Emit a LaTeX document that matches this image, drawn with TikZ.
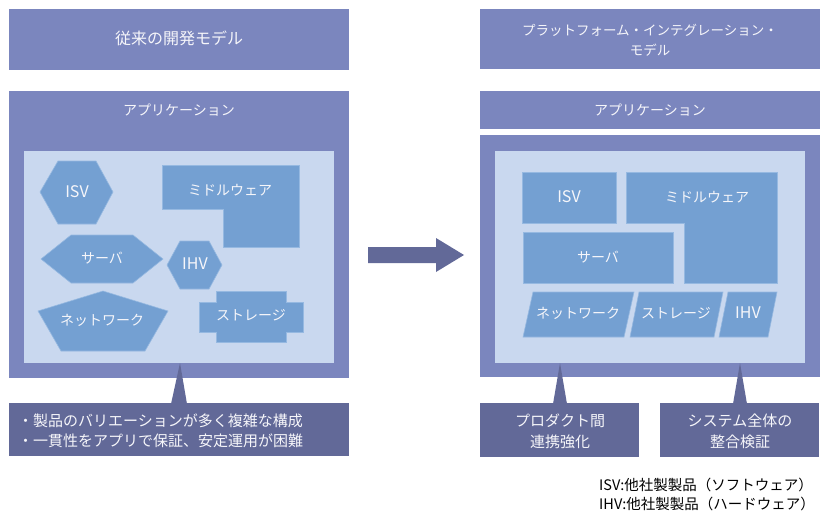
\documentclass[tikz,border=0pt]{standalone}
\usepackage{fontspec}
\setmainfont{Noto Sans CJK JP}
\definecolor{frame}{RGB}{123,134,190}
\definecolor{panel}{RGB}{201,216,239}
\definecolor{part}{RGB}{116,160,210}
\definecolor{partedge}{RGB}{150,185,225}
\definecolor{dark}{RGB}{98,105,152}
\definecolor{wtext}{RGB}{246,246,250}
\begin{document}
\begin{tikzpicture}[x=1pt,y=-1pt,
  lbl/.style={text=wtext, font=\fontsize{14}{20}\selectfont, inner sep=0pt, align=center},
  latin/.style={lbl, font=\fontsize{16}{20}\selectfont},
  partfill/.style={fill=part, draw=partedge, line width=0.6pt},
  framefill/.style={fill=frame},
  panelfill/.style={fill=panel},
  darkfill/.style={fill=dark}]
\useasboundingbox (0,0) rectangle (824,511);

% ---------- left side ----------
\fill[framefill] (9,9) rectangle (349,70);
\node[lbl, font=\fontsize{16}{20}\selectfont] (ltitle) at (179,38) {従来の開発モデル};

\fill[framefill] (9,91) rectangle (349,378);
\node[lbl] (lapp) at (179,110) {アプリケーション};
\fill[panelfill] (24,151) rectangle (334,363);

% shapes
\fill[partfill] (58,161) -- (96,161) -- (113,192) -- (96,224) -- (58,224) -- (40,192) -- cycle;
\node[latin] (lisv) at (77,192) {ISV};

\fill[partfill] (162,165) -- (299,165) -- (299,247) -- (223,247) -- (223,209) -- (162,209) -- cycle;
\node[lbl] (lmid) at (230,190) {ミドルウェア};

\fill[partfill] (41,259) -- (71,235) -- (133,235) -- (163,259) -- (133,283) -- (71,283) -- cycle;
\node[lbl] (lsrv) at (102,258) {サーバ};

\fill[partfill] (167,265) -- (180,241) -- (209,241) -- (222,265) -- (209,289) -- (180,289) -- cycle;
\node[latin] (lihv) at (195,264) {IHV};

\fill[partfill] (103,291) -- (168,311) -- (145,351) -- (61,351) -- (38,311) -- cycle;
\node[lbl] (lnet) at (102,320) {ネットワーク};

\fill[partfill] (216,291) -- (286,291) -- (286,302) -- (303,302) -- (303,332) -- (286,332) -- (286,342)
  -- (216,342) -- (216,332) -- (199,332) -- (199,302) -- (216,302) -- cycle;
\node[lbl] (lsto) at (251,315) {ストレージ};

% left callout
\node[darkfill, minimum width=340pt, minimum height=53pt, inner sep=0pt] (lnote) at (179,429.5) {};
\coordinate (ltip) at (180,363);
\fill[darkfill] (ltip) -- (187,404) -- (171,404) -- cycle;
\node[lbl, font=\fontsize{15}{20}\selectfont, align=left, anchor=west] (lnotetext) at (18,431)
  {・製品のバリエーションが多く複雑な構成\\・一貫性をアプリで保証、安定運用が困難};

% arrow
\coordinate (astart) at (368,255);
\coordinate (aend) at (464,255);
\fill[darkfill] (368,247) -- (436,247) -- (436,238) -- (aend) -- (436,272) -- (436,263) -- (368,263) -- cycle;

% ---------- right side ----------
\fill[framefill] (480,9) rectangle (820,69);
\node[lbl, font=\fontsize{13.5}{20}\selectfont] (rtitle) at (650,40) {プラットフォーム・インテグレーション・\\モデル};

\fill[framefill] (480,91) rectangle (820,129);
\node[lbl] (rapp) at (650,110) {アプリケーション};

\fill[framefill] (480,135) rectangle (820,377);
\fill[panelfill] (495,151) rectangle (805,363);

\fill[partfill] (522,172) rectangle (616,223);
\node[latin] (risv) at (569,197) {ISV};

\fill[partfill] (626,172) -- (777,172) -- (777,283) -- (684,283) -- (684,223) -- (626,223) -- cycle;
\node[lbl] (rmid) at (707,197) {ミドルウェア};

\fill[partfill] (523,232) rectangle (673,283);
\node[lbl] (rsrv) at (598,257) {サーバ};

\fill[partfill] (533,292) -- (634,292) -- (624,337) -- (523,337) -- cycle;
\node[lbl] (rnet) at (578,313) {ネットワーク};

\fill[partfill] (639,292) -- (723,292) -- (714,337) -- (630,337) -- cycle;
\node[lbl] (rsto) at (676,313) {ストレージ};

\fill[partfill] (728,292) -- (777,292) -- (768,337) -- (719,337) -- cycle;
\node[latin] (rihv) at (748,313) {IHV};

% right callouts
\node[darkfill, minimum width=159pt, minimum height=54pt, inner sep=0pt] (rnote1) at (559.5,430) {};
\node[darkfill, minimum width=159pt, minimum height=54pt, inner sep=0pt] (rnote2) at (739.5,430) {};
\coordinate (rtip1) at (560,363);
\coordinate (rtip2) at (740,363);
\fill[darkfill] (rtip1) -- (567,404) -- (553,404) -- cycle;
\fill[darkfill] (rtip2) -- (747,404) -- (733,404) -- cycle;
\node[lbl, font=\fontsize{15}{21}\selectfont] (rnote1text) at (560,431) {プロダクト間\\連携強化};
\node[lbl, font=\fontsize{15}{21}\selectfont] (rnote2text) at (740,431) {システム全体の\\整合検証};

% legend
\node[inner sep=0pt, align=left, anchor=west, font=\fontsize{14.5}{19}\selectfont] (legend) at (599,494)
  {ISV:他社製製品（ソフトウェア）\\IHV:他社製製品（ハードウェア）};
\end{tikzpicture}
\end{document}
